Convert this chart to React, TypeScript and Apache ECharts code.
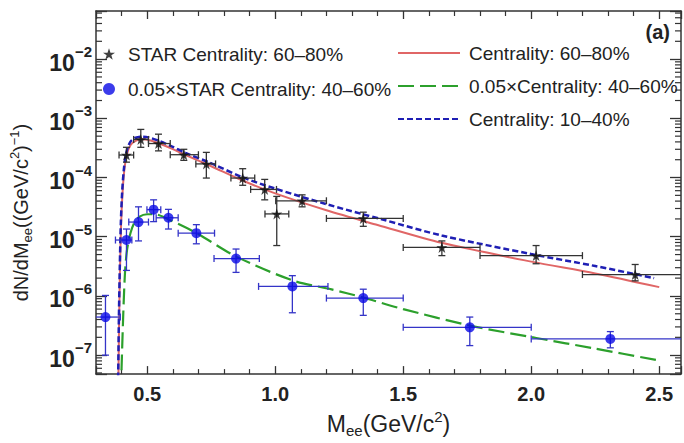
import React, { useEffect, useRef } from "react";
import * as echarts from "echarts";

// ---------- Data ----------
// STAR Centrality 60-80% (black stars)
const starX = [0.419, 0.475, 0.544, 0.643, 0.731, 0.873, 0.959, 1.006, 1.105, 1.344, 1.651, 2.019, 2.406];
const starY = [2.4e-4, 4.4e-4, 3.75e-4, 2.43e-4, 1.7e-4, 9.8e-5, 6.3e-5, 2.43e-5, 4.05e-5, 2.04e-5, 6.6e-6, 4.8e-6, 2.3e-6];
const starXLo = [0.39, 0.447, 0.505, 0.59, 0.69, 0.827, 0.904, 0.96, 1.002, 1.2, 1.5, 1.8, 2.2];
const starXHi = [0.447, 0.505, 0.59, 0.7, 0.767, 0.92, 1.005, 1.053, 1.2, 1.5, 1.8, 2.2, 2.6];
const starYLo = [1.82e-4, 3.24e-4, 2.82e-4, 1.95e-4, 9.8e-5, 7.4e-5, 4.2e-5, 7.1e-6, 3.2e-5, 1.5e-5, 4.8e-6, 3.5e-6, 1.8e-6];
const starYHi = [3.24e-4, 6.5e-4, 5.4e-4, 3.0e-4, 2.66e-4, 1.41e-4, 9.3e-5, 4.8e-5, 5.1e-5, 2.6e-5, 8.5e-6, 7.1e-6, 3.4e-6];

// 0.05 x STAR Centrality 40-60% (blue circles)
const dotX = [0.337, 0.419, 0.466, 0.525, 0.583, 0.692, 0.847, 1.067, 1.344, 1.76, 2.309];
const dotY = [4.4e-7, 8.8e-6, 1.77e-5, 2.87e-5, 2.09e-5, 1.15e-5, 4.27e-6, 1.45e-6, 9.2e-7, 2.95e-7, 1.88e-7];
const dotXLo = [0.29, 0.376, 0.428, 0.499, 0.535, 0.621, 0.761, 0.935, 1.2, 1.5, 2.0];
const dotXHi = [0.395, 0.44, 0.505, 0.553, 0.621, 0.763, 0.938, 1.206, 1.5, 2.0, 2.65];
const dotYLo = [1.0e-7, 2.7e-6, 8.5e-6, 1.8e-5, 1.35e-5, 7.6e-6, 2.5e-6, 5.2e-7, 4.7e-7, 1.45e-7, 1.33e-7];
const dotYHi = [1.02e-6, 1.35e-5, 3.2e-5, 4.2e-5, 2.9e-5, 1.6e-5, 6.2e-6, 2.2e-6, 1.3e-6, 4.4e-7, 2.5e-7];

// Model curves
const redX = [0.386, 0.39, 0.394, 0.398, 0.403, 0.41, 0.42, 0.435, 0.455, 0.48, 0.51, 0.55, 0.6, 0.65, 0.75, 0.87, 1.0, 1.2, 1.4, 1.65, 2.0, 2.25, 2.5];
const redY = [1e-8, 3.2e-7, 3.2e-6, 1.6e-5, 5.0e-5, 1.26e-4, 2.4e-4, 3.55e-4, 4.17e-4, 4.42e-4, 4.27e-4, 3.72e-4, 3.02e-4, 2.4e-4, 1.55e-4, 9.0e-5, 5.4e-5, 2.8e-5, 1.58e-5, 7.9e-6, 3.8e-6, 2.4e-6, 1.41e-6];

const blueX = [0.385, 0.389, 0.393, 0.397, 0.402, 0.409, 0.419, 0.434, 0.455, 0.48, 0.51, 0.55, 0.6, 0.65, 0.75, 0.87, 1.0, 1.2, 1.42, 1.65, 2.0, 2.25, 2.48];
const blueY = [1e-8, 3.2e-7, 3.2e-6, 1.7e-5, 5.5e-5, 1.4e-4, 2.7e-4, 4.0e-4, 4.7e-4, 4.9e-4, 4.7e-4, 4.1e-4, 3.3e-4, 2.6e-4, 1.74e-4, 1.02e-4, 6.5e-5, 3.55e-5, 1.95e-5, 1.05e-5, 5.1e-6, 3.2e-6, 2.0e-6];

const greenX = [0.395, 0.4, 0.405, 0.41, 0.415, 0.422, 0.435, 0.45, 0.47, 0.5, 0.53, 0.57, 0.69, 0.85, 1.07, 1.22, 1.34, 1.5, 1.76, 2.02, 2.25, 2.5];
const greenY = [1e-8, 6.3e-8, 3.2e-7, 1.26e-6, 3.2e-6, 6.3e-6, 1.17e-5, 1.74e-5, 2.19e-5, 2.4e-5, 2.4e-5, 2.09e-5, 1.17e-5, 4.57e-6, 1.82e-6, 1.29e-6, 9.5e-7, 6.0e-7, 3.16e-7, 1.95e-7, 1.29e-7, 8.1e-8];

// Axis settings
const xMin = 0.3;
const xMax = 2.585;
const yMin = 4.786e-8;
const yMax = 0.065;
const minorDecades = [-8, -7, -6, -5, -4, -3, -2];
const minorMultipliers = [2, 3, 4, 5, 6, 7, 8, 9];

const LEG_STAR = "STAR Centrality: 60–80%";
const LEG_DOT = "0.05×STAR Centrality: 40–60%";
const LEG_RED = "Centrality: 60–80%";
const LEG_GREEN = "0.05×Centrality: 40–60%";
const LEG_BLUE = "Centrality: 10–40%";

const FONT = "'Liberation Sans', Arial, Helvetica, sans-serif";
const STAR_PATH =
  "path://M50,0 L61.8,35.1 L97.6,34.5 L68.7,55.9 L79.4,90.5 L50,69 L20.6,90.5 L31.3,55.9 L2.4,34.5 L38.2,35.1 Z";

function zip(...arrs: number[][]) {
  return arrs[0].map((_, i) => arrs.map((a) => a[i]));
}

function errorBarRender(color: string) {
  return (params: any, api: any) => {
    const x = api.value(0);
    const y = api.value(1);
    const xl = api.value(2);
    const xh = api.value(3);
    const yl = api.value(4);
    const yh = api.value(5);
    const l = api.coord([xl, y]);
    const r = api.coord([xh, y]);
    const b = api.coord([x, yl]);
    const t = api.coord([x, yh]);
    const cap = 3.5;
    const st = { stroke: color, lineWidth: 1.3 };
    const ln = (x1: number, y1: number, x2: number, y2: number) => ({
      type: "line",
      shape: { x1, y1, x2, y2 },
      style: st,
    });
    return {
      type: "group",
      children: [
        ln(l[0], l[1], r[0], r[1]),
        ln(l[0], l[1] - cap, l[0], l[1] + cap),
        ln(r[0], r[1] - cap, r[0], r[1] + cap),
        ln(b[0], b[1], t[0], t[1]),
        ln(b[0] - cap, b[1], b[0] + cap, b[1]),
        ln(t[0] - cap, t[1], t[0] + cap, t[1]),
      ],
    };
  };
}

export default function App() {
  const ref = useRef<HTMLDivElement>(null);
  useEffect(() => {
    if (!ref.current) return;
    const chart = echarts.init(ref.current, null, { renderer: "svg" });

    const minorTickValues: number[][] = [];
    minorDecades.forEach((d) =>
      minorMultipliers.forEach((m) => {
        const v = m * Math.pow(10, d);
        if (v > yMin && v < yMax) minorTickValues.push([xMin, v]);
      })
    );

    const supLabel = (v: number) => {
      const e = Math.log10(v);
      const r = Math.round(e);
      if (Math.abs(e - r) > 1e-6) return "";
      return `{b|10}{s|${r < 0 ? "−" + -r : r}}`;
    };

    const axisLine = { show: true, lineStyle: { color: "#333", width: 1.5 } };
    const titleRich = (size: number, small: number) => ({
      n: { fontSize: size, lineHeight: size + 6, fontFamily: FONT, color: "#222" },
      sub: { fontSize: small, lineHeight: small, verticalAlign: "bottom", fontFamily: FONT, color: "#222" },
      sup: { fontSize: small, lineHeight: small, verticalAlign: "top", fontFamily: FONT, color: "#222" },
    });

    const option: any = {
      animation: false,
      backgroundColor: "#fff",
      textStyle: { fontFamily: FONT },
      grid: { left: 92, right: 2, top: 11, bottom: 62, containLabel: false },
      xAxis: [
        {
          type: "value",
          min: xMin,
          max: xMax,
          position: "bottom",
          axisLine,
          axisTick: { show: true, inside: true, length: 8, lineStyle: { color: "#333", width: 1.3 } },
          minorTick: { show: true, splitNumber: 5, length: 5, lineStyle: { color: "#333", width: 1.2 } },
          splitLine: { show: false },
          axisLabel: {
            color: "#222",
            fontWeight: "bold",
            fontSize: 20,
            fontFamily: FONT,
            margin: 10,
            formatter: (v: number) => (Math.abs(v * 2 - Math.round(v * 2)) < 1e-6 ? v.toFixed(1) : ""),
          },
          name: "{n|M}{sub|ee}{n|(GeV/c}{sup|2}{n|)}",
          nameLocation: "middle",
          nameGap: 29,
          nameTextStyle: { fontFamily: FONT, color: "#222", rich: titleRich(23, 15) },
        },
        {
          type: "value",
          min: xMin,
          max: xMax,
          position: "top",
          axisLine,
          axisTick: { show: true, inside: true, length: 8, lineStyle: { color: "#333", width: 1.3 } },
          minorTick: { show: true, splitNumber: 5, length: 5, lineStyle: { color: "#333", width: 1.2 } },
          splitLine: { show: false },
          axisLabel: { show: false },
        },
      ],
      yAxis: [
        {
          type: "log",
          logBase: 10,
          min: yMin,
          max: yMax,
          position: "left",
          axisLine,
          axisTick: { show: true, inside: true, length: 11, lineStyle: { color: "#333", width: 1.3 } },
          splitLine: { show: false },
          axisLabel: {
            margin: 4,
            formatter: supLabel,
            rich: {
              b: { fontSize: 23, fontWeight: "bold", lineHeight: 30, verticalAlign: "bottom", fontFamily: FONT, color: "#222" },
              s: { fontSize: 15, fontWeight: "bold", lineHeight: 15, verticalAlign: "top", fontFamily: FONT, color: "#222" },
            },
          },
          name: "{n|dN/dM}{sub|ee}{n|((GeV/c}{sup|2}{n|)}{sup|−1}{n|)}",
          nameLocation: "middle",
          nameRotate: 90,
          nameGap: 62,
          nameTextStyle: { fontFamily: FONT, color: "#222", rich: titleRich(20, 13), padding: [0, 40, 0, 0] },
        },
        {
          type: "log",
          logBase: 10,
          min: yMin,
          max: yMax,
          position: "right",
          axisLine,
          axisTick: { show: true, inside: true, length: 11, lineStyle: { color: "#333", width: 1.3 } },
          splitLine: { show: false },
          axisLabel: { show: false },
        },
      ],
      legend: [
        {
          data: [LEG_STAR, LEG_DOT],
          orient: "vertical",
          left: 103,
          top: 44,
          padding: 0,
          itemWidth: 12,
          itemHeight: 12,
          itemGap: 15,
          textStyle: { fontSize: 19, lineHeight: 20, color: "#222", fontFamily: FONT, padding: [0, 0, 0, 8] },
        },
        {
          data: [LEG_RED, LEG_GREEN, LEG_BLUE],
          orient: "vertical",
          left: 397,
          top: 43,
          padding: 0,
          itemWidth: 62,
          itemHeight: 14,
          itemGap: 13,
          itemStyle: { opacity: 0 },
          textStyle: { fontSize: 19, lineHeight: 20, color: "#222", fontFamily: FONT, padding: [0, 0, 0, 4] },
        },
      ],
      graphic: [
        {
          type: "text",
          right: 14,
          top: 22,
          style: { text: "(a)", fontSize: 20, fontWeight: "bold", fill: "#222", fontFamily: FONT },
        },
      ],
      series: [
        {
          name: "minorTicks",
          type: "custom",
          silent: true,
          data: minorTickValues,
          encode: { x: 0, y: 1 },
          renderItem: (params: any, api: any) => {
            const cs = params.coordSys;
            const p = api.coord([api.value(0), api.value(1)]);
            const y = p[1];
            if (y < cs.y || y > cs.y + cs.height) return null;
            const st = { stroke: "#333", lineWidth: 1.2 };
            return {
              type: "group",
              children: [
                { type: "line", shape: { x1: cs.x, y1: y, x2: cs.x + 6, y2: y }, style: st },
                { type: "line", shape: { x1: cs.x + cs.width - 6, y1: y, x2: cs.x + cs.width, y2: y }, style: st },
              ],
            };
          },
        },
        {
          name: LEG_RED,
          type: "line",
          data: zip(redX, redY),
          symbol: "none",
          smooth: 0.3,
          lineStyle: { color: "#e06666", width: 2 },
          itemStyle: { color: "#e06666" },
          z: 2,
        },
        {
          name: LEG_BLUE,
          type: "line",
          data: zip(blueX, blueY),
          symbol: "none",
          smooth: 0.3,
          lineStyle: { color: "#1f1fb4", width: 2.5, type: [6, 3] },
          itemStyle: { color: "#1f1fb4" },
          z: 3,
        },
        {
          name: LEG_GREEN,
          type: "line",
          data: zip(greenX, greenY),
          symbol: "none",
          smooth: 0.3,
          lineStyle: { color: "#2ca02c", width: 2.2, type: [16, 6] },
          itemStyle: { color: "#2ca02c" },
          z: 2,
        },
        {
          name: LEG_STAR + " err",
          type: "custom",
          clip: true,
          silent: true,
          data: zip(starX, starY, starXLo, starXHi, starYLo, starYHi),
          encode: { x: 0, y: 1 },
          renderItem: errorBarRender("#333333"),
          z: 4,
        },
        {
          name: LEG_DOT + " err",
          type: "custom",
          clip: true,
          silent: true,
          data: zip(dotX, dotY, dotXLo, dotXHi, dotYLo, dotYHi),
          encode: { x: 0, y: 1 },
          renderItem: errorBarRender("#3434c8"),
          z: 4,
        },
        {
          name: LEG_STAR,
          type: "scatter",
          data: zip(starX, starY),
          symbol: STAR_PATH,
          symbolSize: 11,
          itemStyle: { color: "#111" },
          z: 5,
        },
        {
          name: LEG_DOT,
          type: "scatter",
          data: zip(dotX, dotY),
          symbol: "circle",
          symbolSize: 10,
          itemStyle: { color: "#0a0ae6" },
          z: 5,
        },
      ],
    };

    chart.setOption(option);
    return () => chart.dispose();
  }, []);

  return (
    <div
      ref={ref}
      style={{ position: "fixed", left: 0, top: 0, width: 684, height: 443, background: "#fff" }}
    />
  );
}
